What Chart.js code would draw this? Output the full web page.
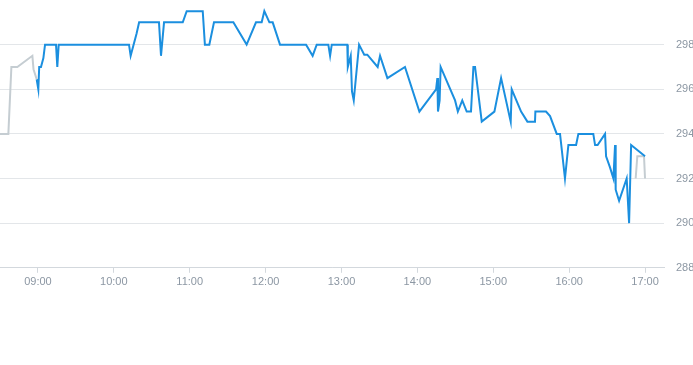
<!DOCTYPE html>
<html>
<head>
<meta charset="utf-8">
<script src="https://cdn.jsdelivr.net/npm/chart.js@4"></script>
<style>
  html, body { margin: 0; padding: 0; background: #fff; }
  #wrap { width: 693px; height: 365px; }
</style>
</head>
<body>
<div id="wrap"><canvas id="priceChart" width="693" height="365"></canvas></div>
<script>
// minutes since midnight
var preTimes  = [510, 516.6, 519, 523.7, 535.6, 536.5, 539];
var preValues = [294, 294, 297, 297, 297.5, 296.9, 296.45];

var mainTimes = [539, 540.3, 541, 542.4, 544.3, 545.6, 554.3, 555.3, 556.4, 612, 613.3, 618, 620, 635.7, 637.3, 639.7,
  654.5, 657.6, 670.3, 672, 675.5, 679.2, 694.5, 705, 712.4, 716.9, 719, 723, 725.6, 731.4, 752, 757.2, 760.4,
  769.6, 771, 772.3, 784.6, 785, 787.3, 788.3, 789.7, 793.9, 798, 800.4, 808.6, 810.5, 816.3, 830.2, 841.6,
  854.8, 855.8, 856.3, 857.6, 858.4, 869.8, 872, 875.5, 879, 882.4, 884.3, 885.6, 890.9, 900.9, 906.2, 913.8,
  914.6, 922, 927, 933, 933.3, 941.7, 944.9, 950.2, 952.8, 956.7, 959.4, 965.5, 967.3, 979.1, 980.5, 982.5,
  988.4, 989.2, 992.3, 995, 996.3, 996.8, 999.5, 1005.5, 1007.4, 1009, 1020];
var mainValues = [296.45, 296.0, 297.0, 297.0, 297.4, 298, 298, 297, 298, 298, 297.5, 298.5, 299, 299, 297.5, 299,
  299, 299.5, 299.5, 298, 298, 299, 299, 298, 299, 299, 299.5, 299, 299, 298, 298, 297.5, 298,
  298, 297.5, 298, 298, 297, 297.5, 295.9, 295.5, 298, 297.55, 297.55, 297, 297.5, 296.5, 297, 295,
  296, 296.5, 295, 295.5, 297, 295.5, 295, 295.5, 295, 295, 297, 297, 294.55, 295, 296.5, 294.55,
  296, 295, 294.55, 294.55, 295, 295, 294.8, 294, 294, 292, 293.5, 293.5, 294, 294, 293.5, 293.5,
  294, 293, 292.5, 292, 293.5, 291.5, 291, 292, 290, 293.5, 293];

var postTimes  = [1012.6, 1013.9, 1019.2, 1020];
var postValues = [292, 293, 293, 292];

var hourTicks = [540, 600, 660, 720, 780, 840, 900, 960, 1020];
var priceTicks = [288, 290, 292, 294, 296, 298];

function toPoints(xs, ys) {
  var pts = [];
  for (var i = 0; i < xs.length; i++) {
    pts.push({ x: xs[i], y: ys[i] });
  }
  return pts;
}

function hhmm(m) {
  var h = Math.floor(m / 60), mm = Math.round(m % 60);
  return (h < 10 ? '0' : '') + h + ':' + (mm < 10 ? '0' : '') + mm;
}

Chart.defaults.font.family = "'Liberation Sans', Arial, sans-serif";
Chart.defaults.font.size = 11;
Chart.defaults.color = '#8c97a3';

var ctx = document.getElementById('priceChart');
var priceChart = new Chart(ctx, {
  type: 'line',
  data: {
    datasets: [{
      data: toPoints(preTimes, preValues),
      borderColor: '#c5cdd2',
      borderWidth: 2,
      pointRadius: 0,
      tension: 0,
      fill: false
    }, {
      data: toPoints(mainTimes, mainValues),
      borderColor: '#1b8fdf',
      borderWidth: 2,
      pointRadius: 0,
      tension: 0,
      fill: false
    }, {
      data: toPoints(postTimes, postValues),
      borderColor: '#c5cdd2',
      borderWidth: 2,
      pointRadius: 0,
      tension: 0,
      fill: false
    }]
  },
  options: {
    responsive: false,
    animation: false,
    layout: { padding: { left: 0, right: 0, top: 0, bottom: 73 } },
    plugins: { legend: { display: false }, tooltip: { enabled: false } },
    scales: {
      x: {
        type: 'linear',
        min: 510,
        max: 1035,
        afterBuildTicks: function (scale) {
          scale.ticks = hourTicks.map(function (v) { return { value: v }; });
        },
        ticks: {
          maxRotation: 0,
          padding: 3,
          callback: function (v) { return hhmm(v); }
        },
        grid: { drawOnChartArea: false, drawTicks: true, tickLength: 5, color: '#d3d8dd' },
        border: { display: true, color: '#d3d8dd' }
      },
      y: {
        position: 'right',
        min: 288,
        max: 300,
        afterBuildTicks: function (scale) {
          scale.ticks = priceTicks.map(function (v) { return { value: v }; });
        },
        afterFit: function (scale) {
          scale.paddingTop = 0;
          scale.paddingBottom = 0;
          scale.width = 29;
        },
        ticks: { padding: 12 },
        grid: { drawTicks: false, color: '#e3e6e9' },
        border: { display: false }
      }
    }
  }
});
</script>
</body>
</html>
